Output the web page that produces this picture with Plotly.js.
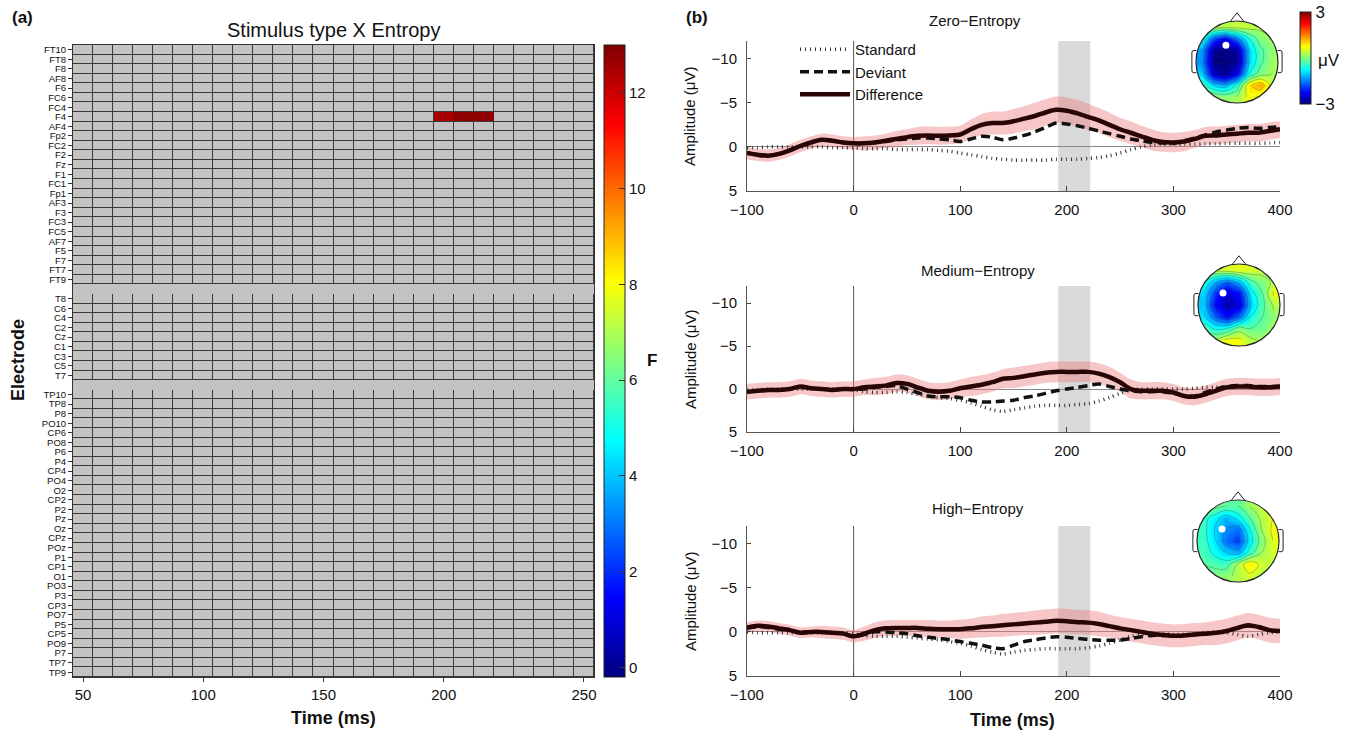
<!DOCTYPE html>
<html><head><meta charset="utf-8">
<script src="https://cdn.plot.ly/plotly-3.0.1.min.js"></script>
<style>html,body{margin:0;padding:0;background:#fff;}#chart{width:1353px;height:731px;}</style>
</head><body><div id="chart"></div>
<script>
// ---------- Panel (a) data ----------
const electrodesFrontal = ['FT10','FT8','F8','AF8','F6','FC6','FC4','F4','AF4','Fp2','FC2','F2','Fz','F1','FC1','Fp1','AF3','F3','FC3','FC5','AF7','F5','F7','FT7','FT9'];
const electrodesCentral = ['T8','C6','C4','C2','Cz','C1','C3','C5','T7'];
const electrodesPosterior = ['TP10','TP8','P8','PO10','CP6','PO8','P6','P4','CP4','PO4','O2','CP2','P2','Pz','Oz','CPz','POz','P1','CP1','O1','PO3','P3','CP3','PO7','P5','CP5','PO9','P7','TP7','TP9'];
const timeBins = [50,58,66,74,82,90,98,106,114,122,130,138,146,154,162,170,178,186,194,202,210,218,226,234,242,250];
const timeTickVals = [50,98,146,194,250];
const timeTickText = ['50','100','150','200','250'];
const sigElectrode = 'F4';
const sigTimes = [194,202,210];
const sigF = [12.5,12.85,12.8];
const fTicks = [0,2,4,6,8,10,12];

// ---------- Panel (b) data ----------
const erpTime = [-100,-90,-80,-70,-60,-50,-40,-30,-20,-10,0,10,20,30,40,50,60,70,80,90,100,110,120,130,140,150,160,170,180,190,200,210,220,230,240,250,260,270,280,290,300,310,320,330,340,350,360,370,380,390,400];
const windowStart = 192, windowEnd = 222;
const stimulusOnset = 0;

const zeroStd  = [0.1,0.1,0.0,0.0,0.0,0.0,0.0,0.0,0.1,0.1,0.1,0.2,0.2,0.2,0.3,0.3,0.3,0.3,0.4,0.5,0.7,0.9,1.1,1.3,1.4,1.5,1.5,1.5,1.5,1.4,1.4,1.4,1.3,1.2,1.0,0.7,0.3,0.0,-0.2,-0.3,-0.3,-0.3,-0.3,-0.35,-0.35,-0.4,-0.4,-0.4,-0.4,-0.45,-0.5];
const zeroDev  = [0.7,0.9,1.0,0.8,0.4,-0.1,-0.5,-0.8,-0.7,-0.5,-0.4,-0.4,-0.5,-0.6,-0.8,-0.9,-1.0,-1.0,-0.9,-0.8,-0.6,-0.9,-1.2,-1.1,-0.8,-1.0,-1.3,-1.7,-2.2,-2.7,-2.6,-2.4,-2.1,-1.8,-1.5,-1.2,-0.9,-0.7,-0.5,-0.45,-0.4,-0.7,-1.0,-1.35,-1.7,-1.9,-2.1,-2.2,-2.1,-2.2,-2.3];
const zeroDiff = [0.7,0.9,1.0,0.8,0.4,-0.1,-0.5,-0.8,-0.7,-0.5,-0.4,-0.4,-0.5,-0.7,-0.9,-1.1,-1.25,-1.3,-1.25,-1.3,-1.4,-2.0,-2.5,-2.7,-2.7,-2.9,-3.2,-3.5,-3.9,-4.2,-4.1,-3.8,-3.4,-3.0,-2.5,-2.0,-1.6,-1.2,-0.8,-0.55,-0.5,-0.6,-0.9,-1.25,-1.3,-1.4,-1.5,-1.6,-1.6,-1.8,-2.0];
const zeroSE   = [0.7,0.7,0.7,0.7,0.7,0.7,0.7,0.7,0.7,0.7,0.7,0.8,0.8,0.8,0.9,0.9,1.0,1.0,1.0,1.0,1.0,1.1,1.2,1.3,1.3,1.4,1.4,1.5,1.5,1.5,1.5,1.5,1.5,1.4,1.4,1.3,1.3,1.2,1.2,1.1,1.1,1.1,1.0,1.0,1.0,1.0,1.0,1.0,1.0,1.0,1.0];

const medStd  = [0.1,0.1,0.0,0.0,0.0,0.0,0.0,0.0,0.0,0.0,0.1,0.3,0.4,0.4,0.3,0.4,0.6,0.8,1.0,1.1,1.3,1.6,2.0,2.4,2.6,2.4,2.2,2.0,1.9,1.9,1.9,1.8,1.7,1.4,1.0,0.5,0.1,0.0,0.0,0.0,0.0,0.0,-0.1,-0.2,-0.2,-0.3,-0.3,-0.3,-0.3,-0.2,-0.2];
const medDev  = [0.3,0.2,0.1,0.1,0.0,-0.3,-0.1,0.0,0.1,0.0,0.0,0.0,-0.2,-0.3,-0.4,0.0,0.4,0.8,0.9,0.9,1.0,1.3,1.5,1.5,1.4,1.3,1.0,0.8,0.5,0.2,0.0,-0.2,-0.4,-0.6,-0.3,0.0,0.2,0.3,0.3,0.3,0.5,0.8,0.8,0.4,0.0,-0.3,-0.4,-0.4,-0.3,-0.3,-0.3];
const medDiff = [0.3,0.2,0.1,0.1,0.0,-0.3,-0.1,0.0,0.1,0.0,0.0,-0.2,-0.3,-0.4,-0.7,-0.6,-0.2,0.2,0.3,0.2,-0.1,-0.3,-0.5,-0.8,-1.2,-1.3,-1.5,-1.7,-1.9,-2.0,-2.0,-2.0,-2.0,-1.8,-1.4,-0.8,0.0,0.2,0.2,0.2,0.4,0.8,0.9,0.6,0.2,-0.2,-0.3,-0.3,-0.2,-0.2,-0.3];
const medSE   = [0.9,0.9,0.9,0.9,0.9,0.9,0.9,0.9,0.9,0.9,0.9,0.9,1.0,1.0,1.0,1.0,1.0,1.0,1.0,1.0,1.0,1.1,1.1,1.1,1.1,1.2,1.2,1.2,1.2,1.2,1.2,1.2,1.2,1.2,1.2,1.1,1.1,1.0,1.0,1.0,1.0,1.0,1.0,1.0,1.0,1.0,1.0,1.0,1.0,1.0,1.0];

const highStd  = [0.0,0.1,0.1,0.1,0.1,0.1,0.1,0.1,0.1,0.1,0.2,0.4,0.5,0.5,0.5,0.6,0.7,0.8,0.9,1.1,1.3,1.6,2.0,2.3,2.5,2.3,2.1,2.0,1.9,1.9,1.9,1.9,1.8,1.6,1.3,0.9,0.5,0.3,0.2,0.2,0.3,0.3,0.2,0.1,0.0,0.1,0.3,0.5,0.3,0.1,0.0];
const highDev  = [-0.4,-0.6,-0.5,-0.3,-0.2,0.1,0.0,0.0,0.1,0.2,0.5,0.3,0.0,0.0,0.1,0.2,0.45,0.6,0.75,0.9,1.1,1.3,1.5,1.8,1.9,1.5,1.1,0.9,0.7,0.55,0.6,0.75,0.85,0.95,0.95,0.95,0.75,0.55,0.4,0.4,0.45,0.4,0.3,0.2,0.1,-0.1,-0.4,-0.7,-0.5,-0.2,-0.1];
const highDiff = [-0.5,-0.7,-0.6,-0.4,-0.2,0.1,0.0,0.0,0.1,0.2,0.5,0.2,-0.2,-0.4,-0.45,-0.45,-0.45,-0.35,-0.3,-0.3,-0.3,-0.4,-0.55,-0.65,-0.75,-0.85,-0.95,-1.05,-1.15,-1.25,-1.2,-1.1,-1.05,-0.9,-0.65,-0.4,-0.2,0.0,0.2,0.35,0.45,0.4,0.3,0.2,0.1,-0.1,-0.45,-0.75,-0.55,-0.2,-0.1];
const highSE   = [0.6,0.6,0.6,0.6,0.6,0.6,0.6,0.7,0.7,0.7,0.7,0.8,0.9,0.9,0.9,0.9,0.9,1.0,1.0,1.0,1.1,1.1,1.2,1.2,1.3,1.3,1.3,1.4,1.4,1.4,1.4,1.4,1.4,1.4,1.3,1.3,1.3,1.3,1.3,1.3,1.3,1.3,1.3,1.3,1.4,1.4,1.4,1.4,1.4,1.4,1.4];

// ---------- Topographic maps (µV), rows from front (top) to back (bottom), columns left to right ----------
const topoX = [-0.857,-0.571,-0.286,0,0.286,0.571,0.857];
const topoY = [0.857,0.571,0.286,0,-0.286,-0.571,-0.857];
const topoZero = [
  [0.3,0.3,0.3,0.4,0.4,0.3,0.3],
  [-0.6,-1.9,-2.4,-1.6,-0.6,0.0,0.2],
  [-1.3,-2.9,-3.0,-2.8,-1.0,-0.3,0.1],
  [-1.4,-3.0,-3.0,-2.9,-1.0,-0.3,0.2],
  [-1.0,-2.6,-2.9,-2.3,-0.6,0.0,0.2],
  [-0.3,-1.0,-1.2,-0.5,0.9,1.3,0.4],
  [0.2,0.2,0.1,0.2,0.7,0.5,0.3]];
const topoMed = [
  [0.3,0.4,0.5,0.6,0.5,0.4,0.3],
  [-0.6,-1.3,-1.7,-1.2,-0.3,0.0,0.3],
  [-1.0,-2.0,-2.5,-2.2,-0.8,-0.2,0.7],
  [-1.1,-2.3,-2.7,-2.5,-1.0,-0.3,0.3],
  [-0.9,-1.7,-2.2,-1.6,-0.6,-0.2,0.1],
  [-0.3,-0.7,-0.6,0.0,-0.2,-0.1,0.2],
  [0.2,0.3,0.7,0.7,0.3,0.2,0.2]];
const topoHigh = [
  [0.0,0.0,-0.2,-0.2,0.2,0.4,0.4],
  [-0.4,-0.8,-1.2,-0.8,-0.2,0.3,0.6],
  [-0.4,-1.0,-1.4,-1.6,-0.6,0.2,0.7],
  [-0.4,-0.9,-1.6,-1.9,-0.8,0.0,0.6],
  [-0.3,-0.7,-1.0,-1.2,-0.4,0.2,0.5],
  [-0.2,-0.3,-0.4,0.3,0.9,0.5,0.3],
  [0.0,0.0,0.1,0.3,0.5,0.3,0.2]];
const topoDot = {zero:[-0.27,0.41], med:[-0.39,0.29], high:[-0.39,0.29]};

// ---------- helpers ----------
const W = 1353, H = 731;
const FONT = 'Liberation Sans, Arial, Helvetica, sans-serif';
const jet = [[0,'rgb(0,0,128)'],[0.125,'rgb(0,0,255)'],[0.375,'rgb(0,255,255)'],[0.625,'rgb(255,255,0)'],[0.875,'rgb(255,0,0)'],[1,'rgb(128,0,0)']];
const xd = (a,b) => [a/W, b/W];
const yd = (top,bottom) => [1-bottom/H, 1-top/H];
const px = (x,y) => ({x:x/W, y:1-y/H, xref:'paper', yref:'paper', xanchor:'center', yanchor:'middle', showarrow:false});

const traces = [];
const shapes = [];
const annotations = [];

// ---------- Panel (a) ----------
const yCats = [...electrodesFrontal, ' ', ...electrodesCentral, '  ', ...electrodesPosterior];
const allElectrodes = yCats.filter(c => c.trim());
const zGray = yCats.map(c => timeBins.map(() => c.trim() ? 1 : null));
const zSpacer = yCats.map(c => timeBins.map(() => c.trim() ? null : 1));
const zSig = yCats.map(c => timeBins.map(t => {
  if (c !== sigElectrode) return null;
  const k = sigTimes.indexOf(t);
  return k >= 0 ? sigF[k] : null;
}));
const grayScale = [[0,'#c3c3c3'],[1,'#c3c3c3']];
traces.push({type:'heatmap', x:timeBins, y:yCats, z:zGray, xaxis:'x', yaxis:'y', colorscale:grayScale, zmin:0, zmax:2, showscale:false, showlegend:false, xgap:1, ygap:1, hoverinfo:'skip'});
traces.push({type:'heatmap', x:timeBins, y:yCats, z:zSpacer, xaxis:'x', yaxis:'y', colorscale:grayScale, zmin:0, zmax:2, showscale:false, showlegend:false, xgap:0, ygap:0, hoverinfo:'skip'});
traces.push({type:'heatmap', x:timeBins, y:yCats, z:zSig, xaxis:'x', yaxis:'y', colorscale:jet, zmin:-0.2, zmax:13, xgap:0, ygap:1,
  showscale:true, showlegend:false,
  colorbar:{x:604/W, xanchor:'left', y:1-677/H, yanchor:'bottom', len:632, lenmode:'pixels', thickness:21, thicknessmode:'pixels',
    xpad:0, ypad:0, outlinewidth:1, outlinecolor:'#222', tickmode:'array', tickvals:fTicks, ticks:'inside', ticklen:6, tickcolor:'#333',
    tickfont:{size:15, family:FONT, color:'#111'}}});
shapes.push({type:'rect', xref:'x domain', yref:'y domain', x0:0, x1:1, y0:0, y1:1, fillcolor:'#3a3a3a', line:{width:0}, layer:'below'});

// ---------- Panel (b) ----------
const panels = [
  {ax:'2', std:zeroStd, dev:zeroDev, diff:zeroDiff, se:zeroSE, legend:true},
  {ax:'3', std:medStd, dev:medDev, diff:medDiff, se:medSE, legend:false},
  {ax:'4', std:highStd, dev:highDev, diff:highDiff, se:highSE, legend:false}];
panels.forEach(p => {
  const xa = 'x'+p.ax, ya = 'y'+p.ax;
  const upper = p.diff.map((v,i) => v + p.se[i]);
  const lower = p.diff.map((v,i) => v - p.se[i]);
  const common = {type:'scatter', mode:'lines', x:erpTime, xaxis:xa, yaxis:ya, hoverinfo:'skip'};
  traces.push({...common, y:upper, line:{width:0, shape:'spline', smoothing:0.8}, showlegend:false});
  traces.push({...common, y:lower, line:{width:0, shape:'spline', smoothing:0.8}, fill:'tonexty', fillcolor:'rgba(236,120,120,0.42)', showlegend:false});
  traces.push({...common, y:p.std, name:'Standard', line:{color:'#333', width:3.5, dash:'1px,4px', shape:'spline', smoothing:0.8}, showlegend:p.legend});
  traces.push({...common, y:p.dev, name:'Deviant', line:{color:'#111', width:3.5, dash:'9px,5px', shape:'spline', smoothing:0.8}, showlegend:p.legend});
  traces.push({...common, y:p.diff, name:'Difference', line:{color:'#2a0505', width:4.5, shape:'spline', smoothing:0.8}, showlegend:p.legend});
  shapes.push({type:'rect', xref:xa, yref:ya+' domain', x0:windowStart, x1:windowEnd, y0:0, y1:1, fillcolor:'#d9d9d9', line:{width:0}, layer:'below'});
  shapes.push({type:'line', xref:xa, yref:ya+' domain', x0:stimulusOnset, x1:stimulusOnset, y0:0, y1:1, line:{color:'#555', width:1}, layer:'below'});
});

// ---------- Topomaps ----------
const topos = [
  {ax:'5', z:topoZero, dot:topoDot.zero, scale:true},
  {ax:'6', z:topoMed, dot:topoDot.med, scale:false},
  {ax:'7', z:topoHigh, dot:topoDot.high, scale:false}];
const R_PX = 41, TOPO_RANGE = 1.45;
topos.forEach(t => {
  const xa = 'x'+t.ax, ya = 'y'+t.ax;
  const zUp = t.z.slice().reverse();
  const yUp = topoY.slice().reverse();
  traces.push({type:'heatmap', x:topoX, y:yUp, z:zUp, xaxis:xa, yaxis:ya, colorscale:jet, zmin:-3, zmax:3, zsmooth:'best', hoverinfo:'skip',
    showscale:t.scale, showlegend:false,
    colorbar:{x:1300/W, xanchor:'left', y:1-104/H, yanchor:'bottom', len:92, lenmode:'pixels', thickness:11, thicknessmode:'pixels',
      xpad:0, ypad:0, outlinewidth:1, outlinecolor:'#222', tickmode:'array', tickvals:[-3,3], ticktext:['\u22123','3'], ticks:'',
      tickfont:{size:17, family:FONT, color:'#111'}}});
  traces.push({type:'contour', x:topoX, y:yUp, z:zUp, xaxis:xa, yaxis:ya, showscale:false, showlegend:false, hoverinfo:'skip',
    contours:{coloring:'none', start:-3, end:3, size:0.4}, line:{color:'rgba(40,40,40,0.45)', width:0.6, smoothing:1.2}});
  traces.push({type:'scatter', mode:'markers', x:[t.dot[0]], y:[t.dot[1]], xaxis:xa, yaxis:ya, showlegend:false, hoverinfo:'skip',
    marker:{color:'white', size:7, line:{width:0}}});
  const mid = 1.215;
  shapes.push({type:'circle', xref:xa, yref:ya, x0:-mid, x1:mid, y0:-mid, y1:mid, line:{color:'white', width:18}, layer:'above'});
  shapes.push({type:'circle', xref:xa, yref:ya, x0:-1, x1:1, y0:-1, y1:1, line:{color:'#222', width:1.2}, layer:'above'});
  shapes.push({type:'path', xref:xa, yref:ya, path:'M -0.17,0.985 L 0,1.2 L 0.17,0.985', line:{color:'#222', width:1}, layer:'above'});
  shapes.push({type:'path', xref:xa, yref:ya, path:'M -0.99,0.28 L -1.07,0.28 Q -1.1,0.28 -1.1,0.22 L -1.1,-0.2 Q -1.1,-0.26 -1.07,-0.26 L -0.99,-0.26', line:{color:'#222', width:1}, layer:'above'});
  shapes.push({type:'path', xref:xa, yref:ya, path:'M 0.99,0.28 L 1.07,0.28 Q 1.1,0.28 1.1,0.22 L 1.1,-0.2 Q 1.1,-0.26 1.07,-0.26 L 0.99,-0.26', line:{color:'#222', width:1}, layer:'above'});
});

// ---------- Annotations ----------
const tf = (size) => ({family:FONT, size:size, color:'#111'});
annotations.push({...px(22,18), text:'<b>(a)</b>', font:tf(17)});
annotations.push({...px(697,18), text:'<b>(b)</b>', font:tf(17)});
annotations.push({...px(333,30), text:'Stimulus type X Entropy', font:tf(20)});
annotations.push({...px(18,360), text:'<b>Electrode</b>', textangle:-90, font:tf(18)});
annotations.push({...px(333,718), text:'<b>Time (ms)</b>', font:tf(18)});
annotations.push({...px(652,360), text:'<b>F</b>', font:tf(17)});
annotations.push({...px(1013,720), text:'<b>Time (ms)</b>', font:tf(18)});
annotations.push({...px(975,21), text:'Zero\u2212Entropy', font:tf(15)});
annotations.push({...px(978,270), text:'Medium\u2212Entropy', font:tf(15)});
annotations.push({...px(978,508), text:'High\u2212Entropy', font:tf(15)});
[116,359,601].forEach(y => annotations.push({...px(690,y), text:'Amplitude (\u03bcV)', textangle:-90, font:tf(15)}));
annotations.push({...px(1329,60), text:'\u03bcV', font:tf(17)});

// ---------- Axes ----------
const ervX = (dom) => ({domain:dom, range:[-100,400], dtick:100, tick0:0, ticks:'inside', ticklen:5, tickcolor:'#444',
  showline:true, linecolor:'#555', linewidth:1, showgrid:false, zeroline:false,
  tickfont:{size:15, family:FONT, color:'#111'}, ticklabelstandoff:5, fixedrange:true});
const ervY = (dom) => ({domain:dom, range:[5,-12], tickmode:'array', tickvals:[-10,-5,0,5], ticks:'inside', ticklen:4, tickcolor:'#444',
  showline:true, linecolor:'#555', linewidth:1, showgrid:false, zeroline:true, zerolinecolor:'#8a8a8a', zerolinewidth:1,
  tickfont:{size:15, family:FONT, color:'#111'}, ticklabelstandoff:6, fixedrange:true});
const topoAx = (c, r) => ({domain:[(c-r)/W,(c+r)/W], range:[-TOPO_RANGE,TOPO_RANGE], visible:false, fixedrange:true});
const topoAy = (c, r) => ({domain:[1-(c+r)/H, 1-(c-r)/H], range:[-TOPO_RANGE,TOPO_RANGE], visible:false, fixedrange:true});
const half = TOPO_RANGE*R_PX;

const layout = {
  width:W, height:H, margin:{l:0,r:0,t:0,b:0}, paper_bgcolor:'white', plot_bgcolor:'white',
  font:{family:FONT, color:'#111'}, showlegend:true,
  legend:{x:795/W, y:1-33/H, xanchor:'left', yanchor:'top', traceorder:'normal', bgcolor:'rgba(255,255,255,0)', borderwidth:0,
    font:{size:15, family:FONT, color:'#111'}, tracegroupgap:0, itemwidth:50},
  xaxis:{domain:xd(73,594), range:[46,254], tickmode:'array', tickvals:timeTickVals, ticktext:timeTickText, ticks:'outside', ticklen:4, tickcolor:'#333',
    showline:true, mirror:true, linecolor:'#333', linewidth:1, showgrid:false, zeroline:false, tickfont:{size:15, family:FONT, color:'#111'}, fixedrange:true},
  yaxis:{domain:yd(45,677), type:'category', categoryorder:'array', categoryarray:yCats, autorange:'reversed', tickmode:'array', tickvals:allElectrodes,
    ticks:'outside', ticklen:4, tickcolor:'#333', showline:true, mirror:true, linecolor:'#333', linewidth:1, showgrid:false, zeroline:false,
    tickfont:{size:9.5, family:FONT, color:'#111'}, fixedrange:true},
  xaxis2:{...ervX(xd(747,1280)), anchor:'y2'}, yaxis2:{...ervY(yd(41,191)), anchor:'x2'},
  xaxis3:{...ervX(xd(747,1280)), anchor:'y3'}, yaxis3:{...ervY(yd(286,432)), anchor:'x3'},
  xaxis4:{...ervX(xd(747,1280)), anchor:'y4'}, yaxis4:{...ervY(yd(526,676)), anchor:'x4'},
  xaxis5:{...topoAx(1237,half), anchor:'y5'}, yaxis5:{...topoAy(62,half), anchor:'x5'},
  xaxis6:{...topoAx(1239,half), anchor:'y6'}, yaxis6:{...topoAy(305,half), anchor:'x6'},
  xaxis7:{...topoAx(1238,half), anchor:'y7'}, yaxis7:{...topoAy(541,half), anchor:'x7'},
  shapes:shapes, annotations:annotations
};
Plotly.newPlot('chart', traces, layout, {displayModeBar:false, staticPlot:true});
</script></body></html>
